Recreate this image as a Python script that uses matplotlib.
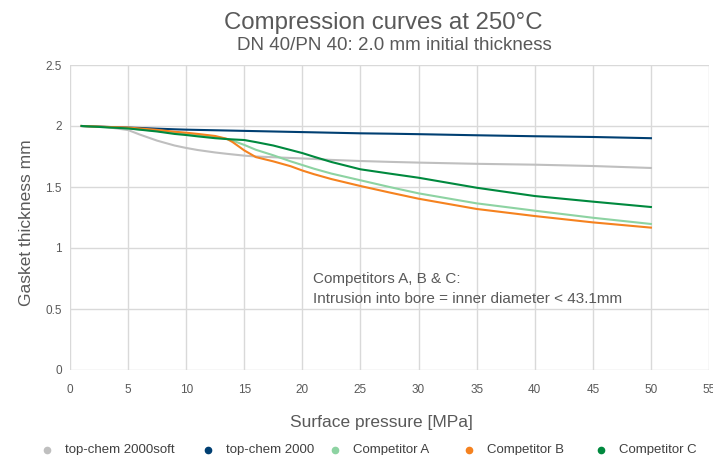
import matplotlib
matplotlib.use('Agg')
import matplotlib.pyplot as plt
from matplotlib.lines import Line2D

# Datos (presión superficial MPa -> espesor mm)
pressure = [1, 3, 5, 6, 7.5, 9, 10, 11, 12.5, 13.5, 14, 15, 16, 17.5, 19, 20, 21, 22.5, 25, 27.5, 30, 35, 40, 45, 50]
soft_2000 = [2.0, 1.993, 1.967, 1.93, 1.88, 1.84, 1.82, 1.803, 1.783, 1.772, 1.767, 1.757, 1.75, 1.744, 1.738,
             1.734, 1.73, 1.722, 1.713, 1.706, 1.70, 1.69, 1.683, 1.672, 1.656]
chem_2000 = [2.0, 1.993, 1.987, 1.984, 1.978, 1.973, 1.97, 1.968, 1.965, 1.963, 1.962, 1.96, 1.958, 1.955, 1.952,
             1.95, 1.948, 1.945, 1.94, 1.937, 1.933, 1.924, 1.916, 1.91, 1.90]
comp_a = [2.0, 1.99, 1.98, 1.972, 1.96, 1.945, 1.937, 1.928, 1.912, 1.893, 1.88, 1.845, 1.805, 1.76, 1.71,
          1.68, 1.65, 1.61, 1.555, 1.5, 1.448, 1.366, 1.306, 1.248, 1.197]
comp_b = [2.0, 1.993, 1.987, 1.98, 1.968, 1.953, 1.945, 1.935, 1.918, 1.895, 1.868, 1.8, 1.745, 1.71, 1.67,
          1.635, 1.605, 1.565, 1.508, 1.455, 1.404, 1.32, 1.262, 1.21, 1.167]
comp_c = [2.0, 1.99, 1.98, 1.97, 1.955, 1.935, 1.926, 1.915, 1.9, 1.893, 1.89, 1.885, 1.868, 1.84, 1.803,
          1.778, 1.748, 1.705, 1.645, 1.61, 1.576, 1.494, 1.426, 1.38, 1.336]

names = ['top-chem 2000soft', 'top-chem 2000', 'Competitor A', 'Competitor B', 'Competitor C']
colors = ['#BFBFBF', '#003F72', '#8DD3A2', '#F5821F', '#00893E']

plt.rcParams['font.family'] = ['Liberation Sans', 'DejaVu Sans']
txt = '#595959'
W, H = 713, 455

fig = plt.figure(figsize=(7.13, 4.55), dpi=100)
ax = fig.add_axes([70/W, 1 - 370/H, 639/W, 305/H])

for name, vals, col in zip(names, [soft_2000, chem_2000, comp_a, comp_b, comp_c], colors):
    ax.plot(pressure, vals, color=col, lw=1.5, label=name)

ax.set_xlim(0, 55)
ax.set_ylim(0, 2.5)
ax.set_xticks(range(0, 56, 5))
ax.set_yticks([0, 0.5, 1, 1.5, 2, 2.5])
ax.set_yticklabels(['0', '0.5', '1', '1.5', '2', '2.5'])
ax.grid(True, color='#D9D9D9', lw=1)
ax.set_axisbelow(True)
for s in ax.spines.values():
    s.set_visible(False)
ax.tick_params(length=0, labelsize=8.5, colors=txt)
ax.tick_params(axis='x', pad=10)
ax.tick_params(axis='y', pad=6)

fig.text(381/W, 1 - 422/H, 'Surface pressure [MPa]', ha='center', va='center',
         fontsize=12.5, color=txt)
fig.text(27/W, 1 - 223/H, 'Gasket thickness mm', ha='center', va='center',
         fontsize=12.5, color=txt, rotation=90)

fig.text(383/W, 1 - 23/H, 'Compression curves at 250°C', ha='center', va='center',
         fontsize=17.3, color=txt)
fig.text(394/W, 1 - 46/H, 'DN 40/PN 40: 2.0 mm initial thickness', ha='center', va='center',
         fontsize=13.5, color=txt)

ax.text(20.9, 0.745, 'Competitors A, B & C:', fontsize=11, color=txt, va='center')
ax.text(20.9, 0.58, 'Intrusion into bore = inner diameter < 43.1mm', fontsize=11, color=txt, va='center')

# leyenda manual (columnas de ancho desigual como en el original)
legend_x = [47, 208, 335, 469, 601]
for lx, name, col in zip(legend_x, names, colors):
    fig.add_artist(Line2D([lx/W], [1 - 450/H], transform=fig.transFigure, ls='',
                          marker='o', markersize=4.5, color=col))
    fig.text((lx + 18)/W, 1 - 450/H, name, ha='left', va='center', fontsize=9.5, color='#404040')

fig.savefig('out.png', dpi=100)
